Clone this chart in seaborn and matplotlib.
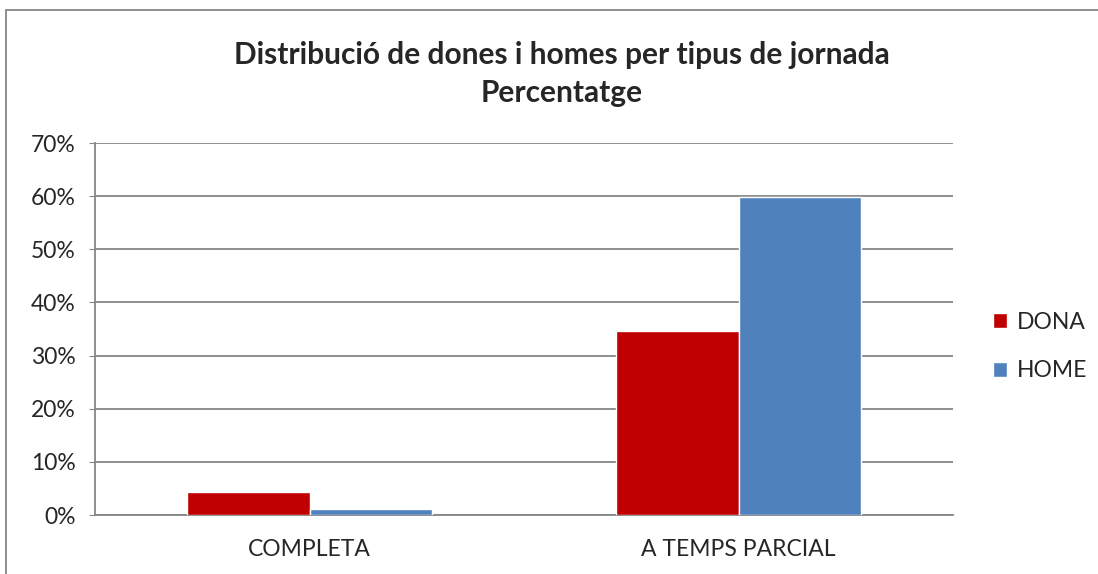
import numpy as np
import pandas as pd
import seaborn as sns
import matplotlib.pyplot as plt
from matplotlib.patches import Rectangle
from matplotlib.ticker import PercentFormatter

categories = ['COMPLETA', 'A TEMPS PARCIAL']
dona = [4.4, 34.6]
home = [1.2, 59.8]
series = ['DONA', 'HOME']
colors = {'DONA': '#C00000', 'HOME': '#4F81BD'}

df = pd.DataFrame({
    'jornada': categories * 2,
    'sexe': ['DONA'] * 2 + ['HOME'] * 2,
    'valor': dona + home,
})

sns.set_style('white')
plt.rcParams['font.family'] = ['Lato', 'DejaVu Sans']

fig = plt.figure(figsize=(10.98, 5.74), dpi=100)
ax = fig.add_axes([95 / 1098, 59 / 574, 858 / 1098, 372 / 574])

sns.barplot(data=df, x='jornada', y='valor', hue='sexe', order=categories,
            hue_order=series, palette=colors, width=0.57, gap=0,
            saturation=1, ax=ax, zorder=3)

ax.set_ylim(0, 70)
ax.set_xlim(-0.5, 1.5)
ax.set_yticks(np.arange(0, 71, 10))
ax.yaxis.set_major_formatter(PercentFormatter(decimals=0))
ax.grid(axis='y', color='#868686', linewidth=1.3, zorder=0)
ax.set_xlabel('')
ax.set_ylabel('')
for s in ['top', 'right']:
    ax.spines[s].set_visible(False)
for s in ['left', 'bottom']:
    ax.spines[s].set_color('#868686')
    ax.spines[s].set_linewidth(1.3)
ax.tick_params(axis='y', labelsize=16.5, left=True, length=4, color='#868686', pad=10)
ax.tick_params(axis='x', labelsize=16.5, bottom=False, pad=14)

leg = ax.legend(loc='center left', bbox_to_anchor=(1.022, 0.453), frameon=False,
                fontsize=16.5, handlelength=0.65, handleheight=0.65,
                handletextpad=0.4, labelspacing=1.2)

# title in two lines
fig.text(0.512, 1 - 55 / 574, 'Distribució de dones i homes per tipus de jornada',
         ha='center', va='center', fontsize=21.5, fontweight='bold')
fig.text(0.512, 1 - 93 / 574, 'Percentatge',
         ha='center', va='center', fontsize=21.5, fontweight='bold')

fig.patches.append(Rectangle((6 / 1098, -0.1), 1.2, 1 - 10 / 574 + 0.1,
                             transform=fig.transFigure, fill=False,
                             edgecolor='#868686', linewidth=1.3))

fig.savefig('out.png', dpi=100)
